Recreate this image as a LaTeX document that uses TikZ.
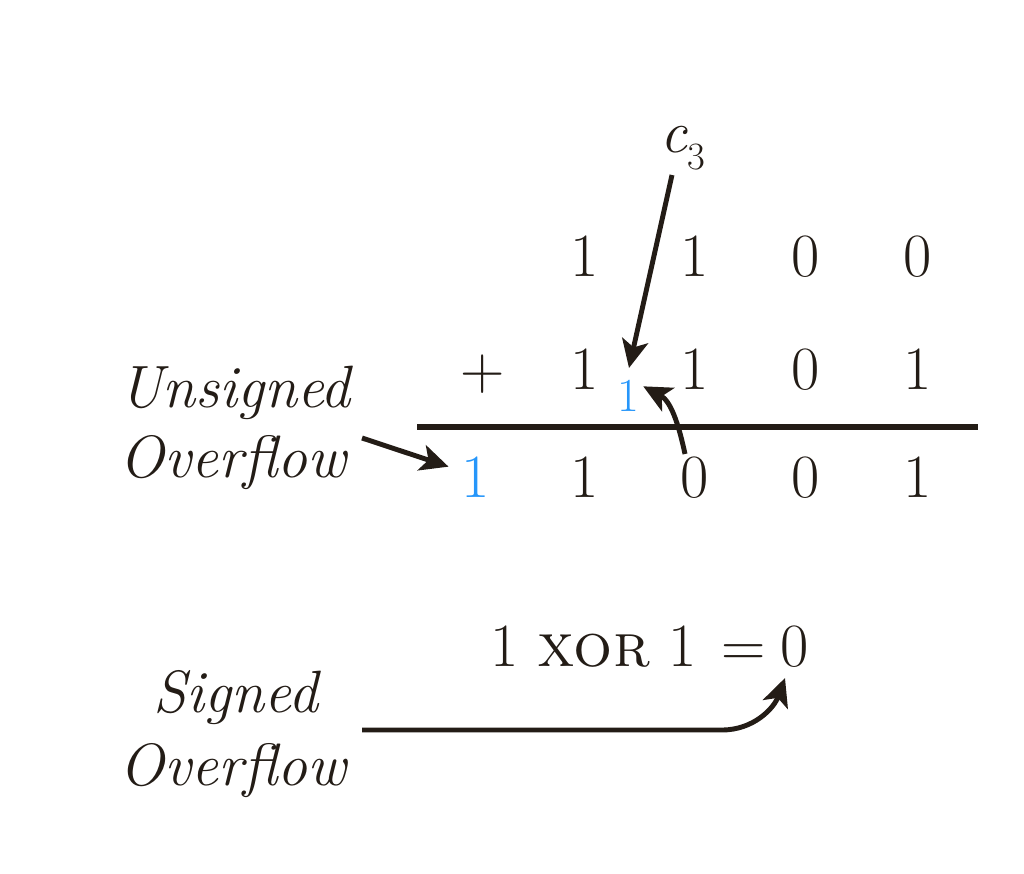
\documentclass[tikz,border=0pt]{standalone}
\usetikzlibrary{arrows.meta}
\definecolor{ink}{RGB}{35,28,22}
\definecolor{carry}{RGB}{38,150,250}
\begin{document}
\begin{tikzpicture}[x=0.02cm,y=0.02cm,
  bit/.style={inner sep=0pt, anchor=base, text=ink, font=\fontsize{35}{40}\selectfont},
  cbit/.style={bit, text=carry},
  lab/.style={inner sep=0pt, anchor=base, text=ink, font=\fontsize{34}{40}\selectfont\itshape},
  arr/.style={draw=ink, line width=2.8pt, -{Stealth[length=16pt,width=15pt,inset=4pt]}},
  rule/.style={draw=ink, line width=3.6pt}
]
\useasboundingbox (0,0) rectangle (1024,-874);
% carry label
\node[lab] (c3) at (683,-153) {c\raisebox{-0.28em}{\upshape\fontsize{22}{22}\selectfont 3}};
% row 1
\node[bit] (a1) at (585,-277) {1};
\node[bit] (a2) at (695,-277) {1};
\node[bit] (a3) at (806,-277) {0};
\node[bit] (a4) at (918,-277) {0};
% row 2
\node[bit] (plus) at (483,-390) {+};
\node[bit] (b1) at (585,-390) {1};
\node[bit] (b2) at (695,-390) {1};
\node[bit] (b3) at (806,-390) {0};
\node[bit] (b4) at (918,-390) {1};
\node[cbit, font=\fontsize{27}{32}\selectfont] (cin) at (628,-412) {1};
% rule
\coordinate (rl) at (417,-427);
\coordinate (rr) at (978,-427);
\draw[rule] (rl) -- (rr);
% row 3
\node[cbit] (s0) at (476,-498) {1};
\node[bit] (s1) at (585,-498) {1};
\node[bit] (s2) at (695,-498) {0};
\node[bit] (s3) at (806,-498) {0};
\node[bit] (s4) at (918,-498) {1};
% unsigned overflow
\node[lab] (uo1) at (235,-408) {Unsigned};
\node[lab] (uo2) at (233,-478) {Overflow};
\coordinate (ustart) at (362,-438);
\draw[arr] (ustart) -- ([shift={(-13,11)}]s0.west);
% c3 arrow
\coordinate (cstart) at (672,-175);
\draw[arr] (cstart) -- (629,-368);
% carry-in curved arrow
\draw[arr] ([shift={(-10,3)}]s2.north) to[out=102,in=-28] ([shift={(4,10)}]cin.east);
% xor equation
\node[bit, anchor=base east] (eq) at (766,-666) {1\hspace{0.3em}\textsc{xor}\hspace{0.3em}1\hspace{0.4em}=};
\node[bit] (zero) at (795,-666) {0};
% signed overflow
\node[lab] (so1) at (236,-712) {Signed};
\node[lab] (so2) at (233,-785) {Overflow};
\coordinate (sstart) at (362,-730);
\coordinate (scorner) at (722,-730);
\coordinate (stip) at (785,-678);
\draw[arr] (sstart) -- (scorner) to[out=0,in=-110] (stip);
\end{tikzpicture}
\end{document}
